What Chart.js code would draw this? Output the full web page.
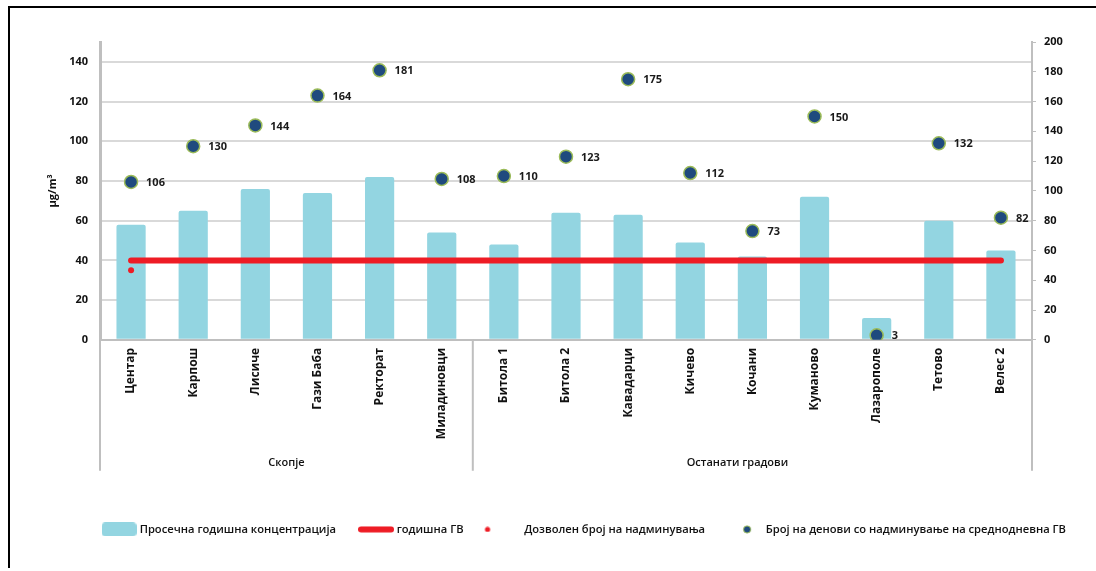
<!DOCTYPE html>
<html>
<head>
<meta charset="utf-8">
<script src="https://cdn.jsdelivr.net/npm/chart.js@4"></script>
<style>
html, body { margin: 0; padding: 0; background: #fff; }
#wrap { width: 1096px; height: 571px; }
</style>
</head>
<body>
<div id="wrap"><canvas id="airChart" width="1096" height="571"></canvas></div>
<script>
const stations = [
    "Центар", "Карпош", "Лисиче", "Гази Баба", "Ректорат", "Миладиновци",
    "Битола 1", "Битола 2", "Кавадарци", "Кичево", "Кочани", "Куманово",
    "Лазарополе", "Тетово", "Велес 2"
];
const groupNames = ["Скопје", "Останати градови"];
const groupSizes = [6, 9];

const annualAverage = [58, 65, 76, 74, 82, 54, 48, 64, 63, 49, 42, 72, 11, 60, 45];
const annualLimit = [40, 40, 40, 40, 40, 40, 40, 40, 40, 40, 40, 40, 40, 40, 40];
const allowedExceedances = [35, null, null, null, null, null, null, null, null, null, null, null, null, null, null];
const exceedanceDays = [106, 130, 144, 164, 181, 108, 110, 123, 175, 112, 73, 150, 3, 132, 82];

const seriesNames = [
    "Просечна годишна концентрација",
    "годишна ГВ",
    "Дозволен број на надминувања",
    "Број на денови со надминување на среднодневна ГВ"
];

const FONT = '"Open Sans", "DejaVu Sans", sans-serif';
const barColor = "#93d5e1";
const redColor = "#ee1c25";
const navyColor = "#1f4a7e";
const rimColor = "#9bbb59";
const axisGray = "#bfbfbf";

// small canvases used as legend markers
function swatch(w, h, draw) {
    const c = document.createElement("canvas");
    c.width = w;
    c.height = h;
    draw(c.getContext("2d"));
    return c;
}
const legendMarks = [
    swatch(35, 14, (g) => {
        g.fillStyle = barColor;
        g.beginPath();
        g.roundRect(0, 0, 35, 14, 4);
        g.fill();
    }),
    swatch(36, 7, (g) => {
        g.strokeStyle = redColor;
        g.lineWidth = 6;
        g.lineCap = "round";
        g.beginPath();
        g.moveTo(3, 3.5);
        g.lineTo(33, 3.5);
        g.stroke();
    }),
    swatch(40, 6, (g) => {
        // dot sits at the left of the box, like the original
        g.fillStyle = redColor;
        g.beginPath();
        g.arc(4, 3, 2.6, 0, Math.PI * 2);
        g.fill();
    }),
    swatch(36, 9, (g) => {
        g.fillStyle = navyColor;
        g.strokeStyle = rimColor;
        g.lineWidth = 1;
        g.beginPath();
        g.arc(20, 4.5, 3.6, 0, Math.PI * 2);
        g.fill();
        g.stroke();
    })
];

const framePlugin = {
    id: "frame",
    beforeDraw(chart) {
        const ctx = chart.ctx;
        ctx.save();
        ctx.strokeStyle = "#000";
        ctx.lineWidth = 2;
        ctx.beginPath();
        ctx.moveTo(8, 7);
        ctx.lineTo(1096, 7);
        ctx.moveTo(9, 6);
        ctx.lineTo(9, 568);
        ctx.stroke();
        ctx.restore();
    }
};

const groupPlugin = {
    id: "groups",
    afterDraw(chart) {
        const x = chart.scales.x;
        const ctx = chart.ctx;
        const bounds = [x.left];
        let n = 0;
        groupSizes.forEach((size) => {
            n += size;
            if (n < stations.length) {
                bounds.push((x.getPixelForValue(n - 1) + x.getPixelForValue(n)) / 2);
            } else {
                bounds.push(x.right);
            }
        });
        ctx.save();
        ctx.strokeStyle = axisGray;
        ctx.lineWidth = 2;
        ctx.beginPath();
        bounds.forEach((bx) => {
            ctx.moveTo(bx, x.top);
            ctx.lineTo(bx, x.top + 131);
        });
        ctx.stroke();
        ctx.fillStyle = "#111";
        ctx.font = "600 11px " + FONT;
        ctx.textAlign = "center";
        ctx.textBaseline = "middle";
        groupNames.forEach((name, i) => {
            ctx.fillText(name, (bounds[i] + bounds[i + 1]) / 2 - (i ? 15 : 0), x.top + 123);
        });
        ctx.restore();
    }
};

const pointLabels = {
    id: "pointLabels",
    afterDatasetsDraw(chart) {
        const meta = chart.getDatasetMeta(3);
        const ctx = chart.ctx;
        ctx.save();
        ctx.font = "bold 11px " + FONT;
        ctx.fillStyle = "#1a1a1a";
        ctx.textBaseline = "middle";
        meta.data.forEach((pt, i) => {
            ctx.fillText(exceedanceDays[i], pt.x + 15, pt.y + 1);
        });
        ctx.restore();
    }
};

const ctx = document.getElementById("airChart").getContext("2d");
new Chart(ctx, {
    data: {
        labels: stations,
        datasets: [
            {
                type: "bar",
                label: seriesNames[0],
                data: annualAverage,
                backgroundColor: barColor,
                borderRadius: 2,
                borderSkipped: "bottom",
                barPercentage: 0.47,
                categoryPercentage: 1,
                yAxisID: "y",
                order: 4
            },
            {
                type: "line",
                label: seriesNames[1],
                data: annualLimit,
                borderColor: redColor,
                backgroundColor: redColor,
                borderWidth: 6,
                borderCapStyle: "round",
                pointRadius: 0,
                yAxisID: "y",
                order: 3
            },
            {
                type: "line",
                label: seriesNames[2],
                data: allowedExceedances,
                showLine: false,
                pointRadius: 3,
                pointBackgroundColor: redColor,
                pointBorderWidth: 0,
                backgroundColor: redColor,
                yAxisID: "y",
                order: 2
            },
            {
                type: "line",
                label: seriesNames[3],
                data: exceedanceDays,
                showLine: false,
                pointRadius: 6.5,
                pointBackgroundColor: navyColor,
                pointBorderColor: rimColor,
                pointBorderWidth: 1.5,
                backgroundColor: navyColor,
                yAxisID: "y1",
                order: 1
            }
        ]
    },
    options: {
        responsive: false,
        animation: false,
        devicePixelRatio: 1,
        layout: {
            padding: { left: 38, right: -36, top: 42, bottom: 26 }
        },
        plugins: {
            tooltip: { enabled: false },
            legend: {
                position: "bottom",
                labels: {
                    usePointStyle: true,
                    pointStyleWidth: 30,
                    boxHeight: 14,
                    padding: 25,
                    color: "#111",
                    font: { family: FONT, size: 11.2, weight: "600" },
                    sort: (a, b) => a.datasetIndex - b.datasetIndex,
                    generateLabels: (chart) =>
                        Chart.defaults.plugins.legend.labels.generateLabels(chart).map((item) => ({
                            ...item,
                            pointStyle: legendMarks[item.datasetIndex]
                        }))
                }
            }
        },
        scales: {
            x: {
                afterFit: (scale) => { scale.height = 159; },
                grid: { drawOnChartArea: false, drawTicks: false },
                border: { color: axisGray, width: 2 },
                ticks: {
                    minRotation: 90,
                    maxRotation: 90,
                    padding: 8,
                    color: "#111",
                    font: { family: FONT, size: 12, weight: "bold" }
                }
            },
            y: {
                position: "left",
                min: 0,
                max: 150,
                afterFit: (scale) => { scale.width = 62; },
                afterBuildTicks: (scale) => {
                    scale.ticks = scale.ticks.filter((t) => t.value <= 140);
                },
                grid: { color: "#d9d9d9", lineWidth: 2, drawTicks: false },
                border: { color: axisGray, width: 3 },
                ticks: {
                    stepSize: 20,
                    padding: 12,
                    color: "#111",
                    font: { family: FONT, size: 11, weight: "bold" }
                },
                title: {
                    display: true,
                    text: "µg/m³",
                    color: "#111",
                    padding: { top: 8, bottom: 0 },
                    font: { family: FONT, size: 11, weight: "bold" }
                }
            },
            y1: {
                position: "right",
                min: 0,
                max: 200,
                afterFit: (scale) => { scale.width = 100; },
                grid: { drawOnChartArea: false, color: axisGray, tickLength: 4 },
                border: { color: axisGray, width: 2 },
                ticks: {
                    stepSize: 20,
                    padding: 8,
                    color: "#111",
                    font: { family: FONT, size: 11, weight: "bold" }
                }
            }
        }
    },
    plugins: [framePlugin, groupPlugin, pointLabels]
});
</script>
</body>
</html>
